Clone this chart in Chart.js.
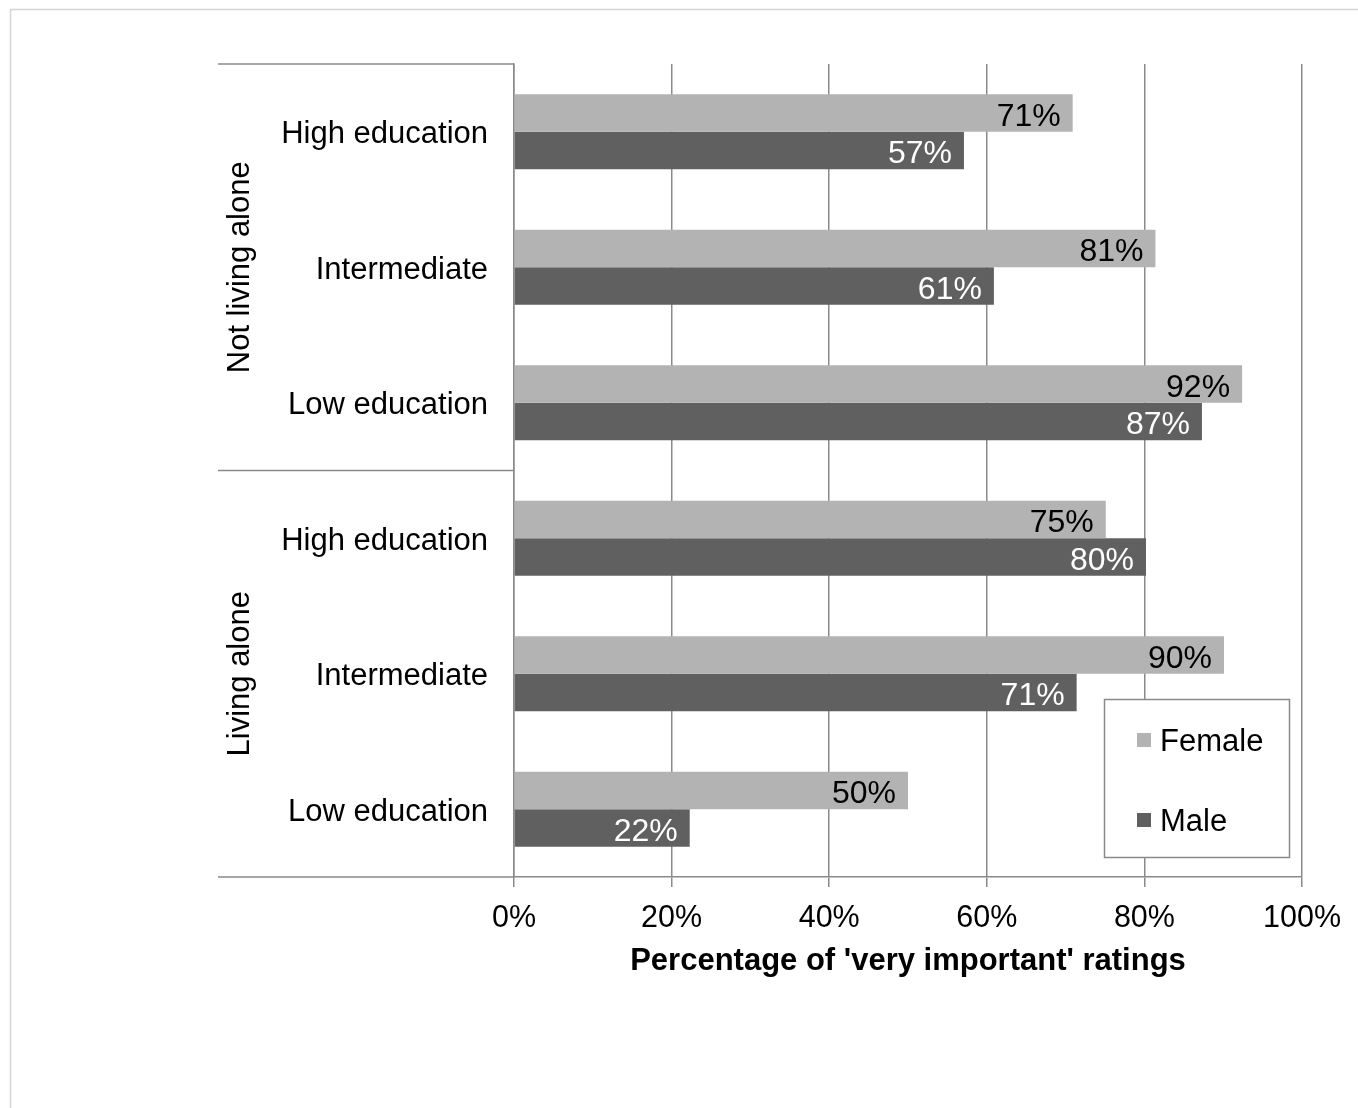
<!DOCTYPE html>
<html>
<head>
<meta charset="utf-8">
<script src="https://cdn.jsdelivr.net/npm/chart.js@4/dist/chart.umd.min.js"></script>
<style>
  html, body { margin: 0; padding: 0; background: #fff; overflow: hidden; }
  #wrap { width: 1358px; height: 1108px; position: relative; }
</style>
</head>
<body>
<div id="wrap"><canvas id="myChart" width="1358" height="1108"></canvas></div>
<script>
const categories = ['High education', 'Intermediate', 'Low education', 'High education', 'Intermediate', 'Low education'];
const groups = ['Not living alone', 'Living alone'];
const female = [70.9, 81.4, 92.4, 75.1, 90.1, 50.0];
const male = [57.1, 60.9, 87.3, 80.2, 71.4, 22.3];
const xTicks = [0, 20, 40, 60, 80, 100];

const FONT = '"Liberation Sans", Arial, sans-serif';
const gridGray = '#8a8a8a';

// frame, group labels and divider lines
const decor = {
  id: 'decor',
  beforeDraw(chart) {
    const c = chart.ctx;
    c.save();
    c.strokeStyle = '#d4d4d4';
    c.lineWidth = 1.5;
    c.strokeRect(10.5, 9.5, 1500, 1300);
    c.restore();
  },
  afterDraw(chart) {
    const c = chart.ctx;
    const a = chart.chartArea;
    const y = chart.scales.y;
    const leftX = 218;
    const mid = (y.getPixelForValue(2) + y.getPixelForValue(3)) / 2;
    c.save();
    c.strokeStyle = gridGray;
    c.lineWidth = 1.5;
    c.beginPath();
    [a.top, mid, a.bottom].forEach(v => {
      c.moveTo(leftX, v);
      c.lineTo(a.left, v);
    });
    c.stroke();
    // group labels
    c.fillStyle = '#000';
    c.font = '31px ' + FONT;
    c.textAlign = 'center';
    c.textBaseline = 'middle';
    const centers = [(a.top + mid) / 2, (mid + a.bottom) / 2];
    groups.forEach((g, i) => {
      c.save();
      c.translate(240, centers[i]);
      c.rotate(-Math.PI / 2);
      c.fillText(g, 0, 0);
      c.restore();
    });
    c.restore();
  }
};

// value labels at the inside end of each bar
const valueLabels = {
  id: 'valueLabels',
  afterDatasetsDraw(chart) {
    const c = chart.ctx;
    c.save();
    c.font = '32px ' + FONT;
    c.textAlign = 'right';
    c.textBaseline = 'middle';
    chart.data.datasets.forEach((ds, di) => {
      const meta = chart.getDatasetMeta(di);
      c.fillStyle = di === 0 ? '#000' : '#fff';
      meta.data.forEach((bar, i) => {
        c.fillText(Math.round(ds.data[i]) + '%', bar.x - 12, bar.y + 4);
      });
    });
    c.restore();
  }
};

// legend box inside the chart area
const boxLegend = {
  id: 'boxLegend',
  afterDraw(chart) {
    const c = chart.ctx;
    c.save();
    c.strokeStyle = gridGray;
    c.lineWidth = 1.5;
    c.fillStyle = '#fff';
    c.fillRect(1104, 699, 185, 158);
    c.strokeRect(1104.5, 699.5, 185, 158);
    c.font = '31px ' + FONT;
    c.textBaseline = 'middle';
    c.textAlign = 'left';
    const rows = [740, 820];
    chart.data.datasets.forEach((ds, i) => {
      c.fillStyle = ds.backgroundColor;
      c.fillRect(1137, rows[i] - 7, 14, 14);
      c.fillStyle = '#000';
      c.fillText(ds.label, 1160, rows[i] + 2);
    });
    c.restore();
  }
};

const ctx = document.getElementById('myChart');

let chart = new Chart(ctx, {
  type: 'bar',
  data: {
    labels: categories,
    datasets: [
      { label: 'Female', data: female, backgroundColor: '#b3b3b3', categoryPercentage: 0.553, barPercentage: 1 },
      { label: 'Male', data: male, backgroundColor: '#606060', categoryPercentage: 0.553, barPercentage: 1 }
    ]
  },
  options: {
    indexAxis: 'y',
    responsive: false,
    animation: false,
    layout: { padding: { left: 0, right: 56, top: 64, bottom: 100 } },
    plugins: {
      legend: { display: false },
      tooltip: { enabled: false }
    },
    scales: {
      x: {
        min: 0,
        max: 100,
        afterBuildTicks(scale) {
          scale.ticks = xTicks.map(v => ({ value: v }));
        },
        afterFit(scale) { scale.height = 131; },
        grid: { color: gridGray, lineWidth: 1.5, tickLength: 10 },
        border: { color: gridGray, width: 1.5 },
        ticks: {
          color: '#000',
          font: { size: 30.5, family: FONT },
          padding: 13,
          maxRotation: 0,
          callback: v => v + '%'
        },
        title: {
          display: true,
          text: "Percentage of 'very important' ratings",
          color: '#000',
          font: { size: 31, weight: 'bold', family: FONT },
          padding: { top: 0, bottom: 28 }
        }
      },
      y: {
        afterFit(scale) { scale.width = 514; },
        grid: { display: false, drawTicks: false },
        border: { color: gridGray, width: 1.5 },
        ticks: {
          color: '#000',
          font: { size: 31, family: FONT },
          padding: 26,
          labelOffset: 3,
          autoSkip: false
        }
      }
    }
  },
  plugins: [decor, valueLabels, boxLegend]
});
</script>
</body>
</html>
